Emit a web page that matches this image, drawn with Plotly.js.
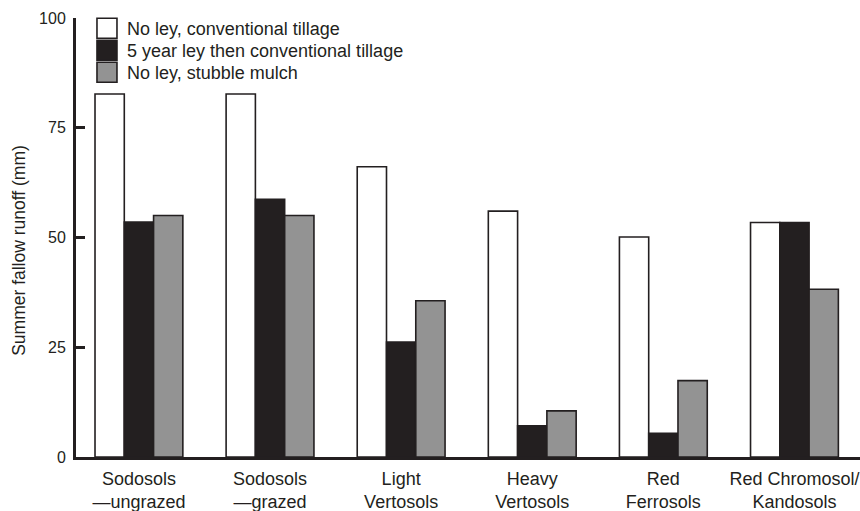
<!DOCTYPE html>
<html>
<head>
<meta charset="utf-8">
<script src="https://cdn.plot.ly/plotly-3.0.1.min.js"></script>
<style>html,body{margin:0;padding:0;background:#fff;}#chart{width:860px;height:511px;}</style>
</head>
<body>
<div id="chart"></div>
<script>
// Data
const categories = [
  "Sodosols<br>—ungrazed",
  "Sodosols<br>—grazed",
  "Light<br>Vertosols",
  "Heavy<br>Vertosols",
  "Red<br>Ferrosols",
  "Red Chromosol/<br>Kandosols"
];
const noLeyConventional = [82.7, 82.7, 66.1, 56.0, 50.1, 53.4];
const leyThenConventional = [53.5, 58.7, 26.2, 7.1, 5.4, 53.4];
const noLeyStubbleMulch = [55.0, 55.0, 35.6, 10.5, 17.4, 38.2];
const seriesNames = [
  "No ley, conventional tillage",
  "5 year ley then conventional tillage",
  "No ley, stubble mulch"
];
const yTicks = [0, 25, 50, 75, 100];

const ink = "#231f20";
const fills = ["#ffffff", ink, "#939393"];
const seriesValues = [noLeyConventional, leyThenConventional, noLeyStubbleMulch];

const traces = seriesValues.map((vals, i) => ({
  type: "bar",
  name: seriesNames[i],
  x: categories,
  y: vals,
  marker: { color: fills[i], line: { color: ink, width: 1.6 } },
  hoverinfo: "skip"
}));

const font = "Liberation Sans, Arial, Helvetica, sans-serif";

const layout = {
  width: 860,
  height: 511,
  margin: { l: 76, r: 0, t: 18, b: 54 },
  paper_bgcolor: "#ffffff",
  plot_bgcolor: "#ffffff",
  barmode: "group",
  bargap: 0.33,
  bargroupgap: 0,
  showlegend: true,
  legend: {
    x: 0.014, y: 1.018, xanchor: "left", yanchor: "top",
    bgcolor: "rgba(0,0,0,0)",
    font: { family: font, size: 18, color: ink },
    traceorder: "normal",
    itemclick: false
  },
  xaxis: {
    type: "category",
    range: [-0.48, 5.5],
    showline: true, linecolor: ink, linewidth: 3,
    ticks: "", showgrid: false, zeroline: false,
    tickfont: { family: font, size: 18, color: ink },
    ticklabelstandoff: 3,
    fixedrange: true
  },
  yaxis: {
    range: [0, 100],
    tickvals: yTicks,
    ticktext: yTicks.map(String),
    ticks: "inside", ticklen: 9, tickwidth: 3, tickcolor: ink,
    showline: true, linecolor: ink, linewidth: 3,
    showgrid: false, zeroline: false,
    tickfont: { family: font, size: 16, color: ink },
    ticklabelstandoff: 4,
    title: { text: "Summer fallow runoff (mm)", font: { family: font, size: 17.5, color: ink }, standoff: 9 },
    fixedrange: true
  }
};

Plotly.newPlot("chart", traces, layout, { staticPlot: true, displayModeBar: false }).then(() => {
  // enlarge legend swatches to match the reference's 20px boxes
  document.querySelectorAll("#chart .legend .legendpoints path").forEach(p => {
    p.setAttribute("d", "M10,10H-10V-10H10Z");
  });
  // tighten legend row spacing to the reference's ~22px
  const items = document.querySelectorAll("#chart .legend .traces");
  let x0 = null, y0 = null;
  items.forEach((g, i) => {
    const m = /translate\(\s*([-\d.]+)[ ,]+([-\d.]+)\s*\)/.exec(g.getAttribute("transform") || "");
    if (!m) return;
    if (x0 === null) { x0 = parseFloat(m[1]); y0 = parseFloat(m[2]); }
    g.setAttribute("transform", "translate(" + x0 + "," + (y0 + i * 22) + ")");
  });
  // the reference's axis title sits a little below the plot's middle
  const yt = document.querySelector("#chart .ytitle");
  if (yt) yt.setAttribute("transform", "translate(0,13) " + (yt.getAttribute("transform") || ""));
});
</script>
</body>
</html>
